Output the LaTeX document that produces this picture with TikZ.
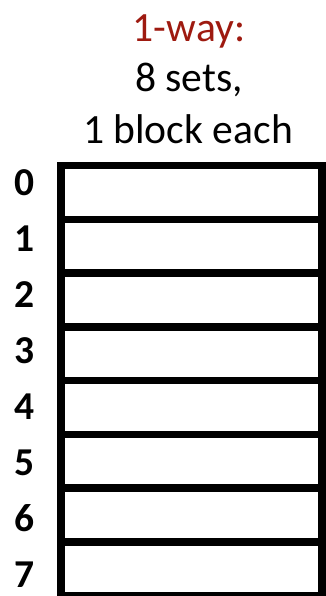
\documentclass[tikz,border=0pt]{standalone}
\usepackage{fontspec}
\setmainfont{Carlito}
\definecolor{wayred}{RGB}{158,26,16}
\begin{document}
\begin{tikzpicture}[x=1pt,y=-1pt,
  title/.style={anchor=base,inner sep=0pt,font=\fontsize{41.6}{48}\selectfont},
  setrow/.style={draw=black,line width=7.5pt,minimum width=261pt,minimum height=53.75pt,inner sep=0pt,outer sep=0pt},
  rowlabel/.style={anchor=base,inner sep=0pt,font=\fontsize{39.5}{44}\selectfont\bfseries}]
\useasboundingbox (0,0) rectangle (326,596);
\node[title,text=wayred] (t1) at (189,41.7) {1-way:};
\node[title] (t2) at (189,91.5) {8 sets,};
\node[title] (t3) at (188,143) {1 block each};
\foreach \i in {0,...,7}{
  \node[setrow] (r\i) at (191.5,{165.5+53.75*(\i+0.5)}) {};
  \node[rowlabel] (l\i) at (25,{195+56*\i}) {\i};
}
\end{tikzpicture}
\end{document}
